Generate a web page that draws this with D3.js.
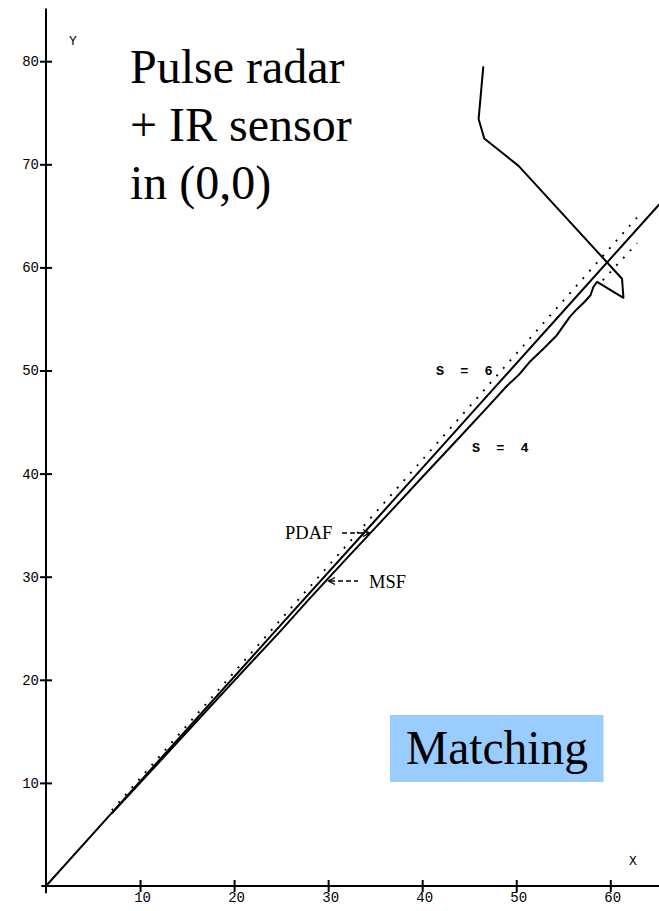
<!DOCTYPE html>
<html>
<head>
<meta charset="utf-8">
<script src="https://cdn.jsdelivr.net/npm/d3@7/dist/d3.min.js"></script>
<style>
  html, body { margin: 0; padding: 0; background: #fff; }
  svg { display: block; }
</style>
</head>
<body>
<svg id="chart" width="659" height="911"></svg>
<script>
// ---- data ----
const xTicks = [10, 20, 30, 40, 50, 60];
const yTicks = [10, 20, 30, 40, 50, 60, 70, 80];

// PDAF track (upper solid line, S = 6)
const pdafTrack = [[0, 0], [7, 7.1], [15, 15.2], [25, 25.35], [35, 35.45], [45, 45.6], [55, 55.75], [65.2, 66.1]];

// MSF track (lower solid line, S = 4), ends with the track that runs away
const msfTrack = [[7.0, 7.05], [10, 10.0], [15, 14.95], [20, 19.9], [25, 24.8], [28, 27.85], [32, 31.8], [36, 35.7],
  [40, 39.65], [44, 43.55], [47, 46.5], [49, 48.5], [50.3, 49.6], [51.5, 50.9], [53, 52.2], [54.3, 53.4],
  [55.7, 55.2], [56.4, 55.9], [57.2, 56.6], [57.9, 57.3], [58.2, 58.1], [58.6, 58.6],
  [61.4, 57.05], [61.25, 58.9], [50.25, 69.85], [46.6, 72.5], [46.0, 74.4], [46.5, 79.5]];

// dotted lines
const dottedMain = [[7, 7.35], [63, 65.0]];
const dottedShort = [[59.2, 58.75], [62.85, 62.35]];

const titleLines = ["Pulse radar", "+ IR sensor", "in (0,0)"];
const boxLabel = "Matching";

// ---- scales ----
const svg = d3.select("#chart");
const x = d3.scaleLinear().domain([0, 65]).range([46, 657.3]);
const y = d3.scaleLinear().domain([0, 80]).range([886, 61.2]);

// ---- axes ----
const axisColor = "#000";
svg.append("line")
  .attr("x1", x(0)).attr("x2", x(0))
  .attr("y1", y(85.1)).attr("y2", y(-0.7))
  .attr("stroke", axisColor).attr("stroke-width", 2);
svg.append("line")
  .attr("x1", x(-0.5)).attr("x2", x(65.3))
  .attr("y1", y(0)).attr("y2", y(0))
  .attr("stroke", axisColor).attr("stroke-width", 2);

const yAxis = svg.append("g")
  .attr("transform", `translate(${x(0)},0)`)
  .call(d3.axisLeft(y).tickValues(yTicks).tickSizeInner(6).tickSizeOuter(0).tickPadding(1));
yAxis.select(".domain").remove();
yAxis.selectAll(".tick line").attr("x1", 6).attr("stroke-width", 2);
yAxis.selectAll(".tick text")
  .attr("font-family", "Liberation Mono, DejaVu Sans Mono, monospace")
  .attr("font-size", 14).attr("fill", "#000");

const xAxis = svg.append("g")
  .attr("transform", `translate(0,${y(0)})`)
  .call(d3.axisBottom(x).tickValues(xTicks).tickSizeInner(6).tickSizeOuter(0).tickPadding(0.5));
xAxis.select(".domain").remove();
xAxis.selectAll(".tick line").attr("y1", -6).attr("stroke-width", 2);
xAxis.selectAll(".tick text")
  .attr("font-family", "Liberation Mono, DejaVu Sans Mono, monospace")
  .attr("font-size", 14).attr("fill", "#000")
  .attr("dx", 2);

svg.append("text").attr("x", 73).attr("y", 45)
  .attr("text-anchor", "middle")
  .attr("font-family", "Liberation Mono, monospace").attr("font-size", 13)
  .text("Y");
svg.append("text").attr("x", 633).attr("y", 865)
  .attr("text-anchor", "middle")
  .attr("font-family", "Liberation Mono, monospace").attr("font-size", 13)
  .text("X");

// ---- lines ----
const line = d3.line().x(d => x(d[0])).y(d => y(d[1]));

svg.append("path").datum(dottedMain).attr("d", line)
  .attr("fill", "none").attr("stroke", "#000").attr("stroke-width", 1.9)
  .attr("stroke-dasharray", "1.9,8.1");
svg.append("path").datum(dottedShort).attr("d", line)
  .attr("fill", "none").attr("stroke", "#000").attr("stroke-width", 1.9)
  .attr("stroke-dasharray", "1.9,8.1");

svg.append("path").datum(pdafTrack).attr("d", line)
  .attr("fill", "none").attr("stroke", "#000").attr("stroke-width", 2)
  .attr("stroke-linejoin", "round");
svg.append("path").datum(msfTrack).attr("d", line)
  .attr("fill", "none").attr("stroke", "#000").attr("stroke-width", 2)
  .attr("stroke-linejoin", "round");

// ---- annotations ----
svg.append("text").attr("x", 436).attr("y", 375)
  .attr("font-family", "Liberation Mono, monospace").attr("font-size", 13.5)
  .attr("font-weight", "bold").style("white-space", "pre")
  .text("S  =  6");
svg.append("text").attr("x", 472).attr("y", 452)
  .attr("font-family", "Liberation Mono, monospace").attr("font-size", 13.5)
  .attr("font-weight", "bold").style("white-space", "pre")
  .text("S  =  4");

svg.append("text").attr("x", 285).attr("y", 539)
  .attr("font-family", "Liberation Serif, Times New Roman, serif").attr("font-size", 18.5)
  .text("PDAF");
svg.append("line").attr("x1", 342).attr("x2", 368).attr("y1", 533).attr("y2", 533)
  .attr("stroke", "#000").attr("stroke-width", 1.4).attr("stroke-dasharray", "5,3");
svg.append("polyline").attr("points", "363,529.5 369.5,533 363,536.5")
  .attr("fill", "none").attr("stroke", "#000").attr("stroke-width", 1.4);

svg.append("text").attr("x", 369).attr("y", 588)
  .attr("font-family", "Liberation Serif, Times New Roman, serif").attr("font-size", 18.5)
  .text("MSF");
svg.append("line").attr("x1", 330).attr("x2", 358).attr("y1", 581).attr("y2", 581)
  .attr("stroke", "#000").attr("stroke-width", 1.4).attr("stroke-dasharray", "5,3");
svg.append("polyline").attr("points", "335,577.5 328.5,581 335,584.5")
  .attr("fill", "none").attr("stroke", "#000").attr("stroke-width", 1.4);

// title
svg.append("g").selectAll("text").data(titleLines).join("text")
  .attr("x", 130).attr("y", (d, i) => 83 + i * 58)
  .attr("font-family", "Liberation Serif, Times New Roman, serif").attr("font-size", 48)
  .text(d => d);

// Matching box
svg.append("rect").attr("x", 390).attr("y", 715).attr("width", 213.5).attr("height", 67)
  .attr("fill", "#99ccff");
svg.append("text").attr("x", 497).attr("y", 763.5).attr("text-anchor", "middle")
  .attr("font-family", "Liberation Serif, Times New Roman, serif").attr("font-size", 47.5)
  .text(boxLabel);
</script>
</body>
</html>
